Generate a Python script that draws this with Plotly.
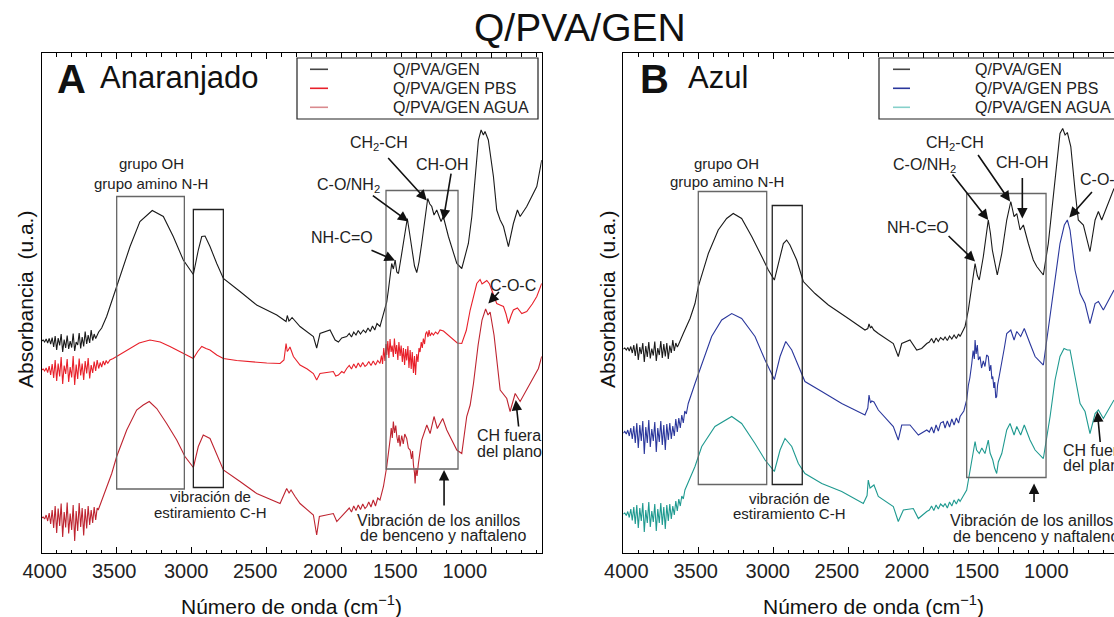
import plotly.graph_objects as go

# ---------------------------------------------------------------
# Espectros FTIR Q/PVA/GEN
# ---------------------------------------------------------------

# ---- Panel A (Anaranjado) : Q/PVA/GEN ----
a_gen_wn = [4000, 3990, 3980, 3970, 3960, 3950, 3940, 3930, 3920, 3910, 3900, 3890, 3880,
            3870, 3860, 3850, 3840, 3830, 3820, 3810, 3800, 3790, 3780, 3770, 3760, 3750,
            3740, 3730, 3720, 3710, 3700, 3690, 3680, 3670, 3660, 3650, 3640,
            3620, 3600, 3567, 3500, 3411, 3345, 3263, 3189, 3123, 3056, 2989, 2956, 2933,
            2911, 2878, 2833, 2789, 2678, 2567, 2433, 2385, 2371, 2363, 2352, 2345, 2331,
            2278, 2189, 2167, 2145, 2078, 2044, 2022, 2000, 1967, 1950, 1935, 1920, 1905,
            1890, 1875, 1856, 1840, 1825, 1810, 1795, 1780, 1765, 1745, 1730, 1711, 1700,
            1689, 1678, 1667, 1656, 1644, 1633, 1622, 1605, 1589, 1575, 1563, 1548, 1533,
            1515, 1500, 1485, 1467, 1445, 1427, 1413, 1400, 1385, 1367, 1338, 1323, 1289,
            1256, 1233, 1200, 1156, 1133, 1111, 1089, 1071, 1056, 1045, 1023, 989, 967,
            944, 922, 889, 856, 829, 811, 767, 700, 667]
a_gen_abs = [42.4, 42.6, 42.2, 42.8, 42.0, 42.9, 41.8, 43.1, 41.2, 43.4, 40.6, 43.0, 41.5,
             43.8, 40.2, 42.7, 41.0, 43.5, 40.8, 42.4, 41.1, 43.9, 40.4, 42.2, 41.6, 44.0,
             40.9, 43.2, 41.3, 44.3, 41.8, 43.6, 42.0, 44.6, 42.5, 43.8, 42.9,
             44.2, 45.0, 47.3, 53.3, 61.3, 66.3, 68.5, 67.3, 63.3, 58.6, 55.7, 60.6, 63.3,
             63.4, 61.3, 57.9, 54.9, 52.3, 49.6, 47.6, 46.6, 46.3, 47.5, 46.4, 46.6, 47.1,
             45.3, 43.3, 41.0, 43.9, 44.6, 42.6, 42.2, 43.0, 43.3, 43.9, 43.2, 44.2, 43.6,
             44.5, 43.8, 44.6, 44.1, 45.0, 44.3, 45.4, 44.6, 45.9, 45.3, 46.8, 48.6, 50.2,
             52.6, 55.6, 57.9, 56.8, 58.6, 56.2, 55.9, 59.0, 61.9, 64.8, 66.9, 64.0, 60.6,
             57.4, 56.1, 58.2, 61.9, 66.5, 70.9, 69.8, 69.3, 67.6, 68.6, 66.3, 67.3, 63.3,
             59.9, 57.9, 56.9, 61.9, 67.3, 75.3, 82.6, 84.6, 83.6, 84.3, 82.6, 75.3, 68.6,
             66.6, 65.3, 61.3, 65.9, 68.6, 67.3, 69.3, 73.3, 78.6]

# ---- Panel A : Q/PVA/GEN PBS ----
a_pbs_wn = [4000, 3990, 3980, 3970, 3960, 3950, 3940, 3930, 3920, 3910, 3900, 3890, 3880,
            3870, 3860, 3850, 3840, 3830, 3820, 3810, 3800, 3790, 3780, 3770, 3760, 3750,
            3740, 3730, 3720, 3710, 3700, 3690, 3680, 3670, 3660, 3650, 3640, 3630, 3620,
            3610, 3600, 3590, 3580, 3570, 3560,
            3545, 3523, 3470, 3411, 3350, 3278, 3210, 3145, 3070, 2989, 2960, 2933, 2905,
            2878, 2833, 2789, 2700, 2633, 2500, 2411, 2385, 2371, 2363, 2356, 2345, 2322,
            2278, 2230, 2189, 2167, 2145, 2100, 2056, 2040, 2022, 2000, 1985,
            1967, 1950, 1935, 1920, 1905, 1890, 1875, 1860, 1845, 1833, 1820, 1805, 1790,
            1775, 1760, 1745,
            1735, 1728, 1720, 1712, 1705, 1700, 1693, 1686, 1678, 1671, 1664, 1656, 1649,
            1641, 1634, 1626, 1619, 1611, 1604, 1596, 1589, 1581, 1574, 1567, 1559, 1552,
            1544, 1537, 1530, 1522, 1515, 1508, 1500, 1492, 1485, 1478, 1470, 1463, 1456,
            1448, 1441, 1433, 1425, 1418, 1411, 1400, 1389, 1375, 1360, 1345, 1322, 1300,
            1280, 1256, 1230, 1200, 1170, 1144, 1120, 1100, 1078, 1065, 1051, 1033, 1015,
            1000, 967, 945, 922, 905, 889, 870, 856, 829, 800, 767, 730, 700, 667]
a_pbs_abs = [36.6, 36.8, 36.4, 37.0, 36.1, 37.4, 35.6, 37.8, 35.0, 38.6, 34.4, 37.9, 35.3,
             39.2, 33.8, 37.5, 35.8, 38.8, 34.2, 37.2, 35.1, 39.4, 33.6, 37.7, 34.8, 38.9,
             35.5, 37.9, 34.6, 38.4, 35.9, 39.0, 34.9, 37.6, 36.0, 38.3, 36.4, 38.6, 36.9,
             38.1, 37.2, 38.4, 37.6, 38.5, 37.9,
             38.6, 38.9, 39.8, 40.9, 42.0, 42.6, 42.2, 41.3, 40.2, 38.9, 40.3, 41.3, 40.9,
             40.6, 39.6, 38.9, 38.5, 38.3, 38.0, 37.9, 38.6, 41.9, 40.3, 40.6, 41.2, 39.3,
             37.6, 36.8, 35.9, 34.6, 35.9, 36.1, 36.3, 35.4, 35.6, 36.3, 36.0,
             36.9, 37.5, 36.8, 37.8, 37.0, 38.0, 37.2, 38.1, 37.3, 37.6, 38.3, 37.5, 38.4,
             37.6, 38.5, 37.9,
             39.5, 37.8, 41.0, 38.4, 41.8, 39.6, 42.4, 39.0, 42.8, 40.2, 41.5, 39.2, 42.9,
             39.8, 41.6, 38.6, 42.2, 39.4, 41.5, 38.2, 41.0, 37.6, 40.8, 38.5, 41.4, 37.0,
             40.6, 36.8, 40.2, 36.0, 39.4, 35.6, 39.8, 38.2, 41.0, 40.2, 42.2, 41.0, 42.9,
             41.8, 43.8, 44.3, 43.2, 44.6, 43.4, 44.0, 43.6, 44.2, 43.8, 44.6, 44.4, 43.8,
             43.2, 42.6, 42.0, 41.9, 44.5, 48.6, 51.5, 53.9, 54.7, 53.8, 54.1, 54.5, 53.8,
             52.6, 49.9, 49.6, 49.3, 47.8, 45.9, 47.6, 48.6, 49.0, 47.9, 48.3, 49.8, 51.3, 53.9]

# ---- Panel A : Q/PVA/GEN AGUA ----
a_agua_wn = [4000, 3990, 3980, 3970, 3960, 3950, 3940, 3930, 3920, 3910, 3900, 3890, 3880,
             3870, 3860, 3850, 3840, 3830, 3820, 3810, 3800, 3790, 3780, 3770, 3760, 3750,
             3740, 3730, 3720, 3710, 3700, 3690, 3680, 3670, 3660, 3650, 3640, 3630, 3623,
             3567, 3533, 3500, 3433, 3367, 3323, 3283, 3233, 3167, 3100, 3045, 2989, 2956,
             2923, 2878, 2833, 2789, 2678, 2567, 2411, 2367, 2351, 2338, 2311, 2278, 2189,
             2167, 2149, 2056, 2033, 2000,
             1967, 1950, 1935, 1920, 1905, 1890, 1875, 1860, 1845, 1833, 1820, 1805, 1790,
             1775, 1760, 1745, 1722, 1700,
             1678, 1670, 1663, 1656, 1648, 1640, 1633, 1625, 1618, 1611, 1600, 1590, 1580,
             1567, 1556, 1544, 1535, 1528, 1522, 1515, 1511, 1505, 1498, 1489, 1467, 1433,
             1411, 1385, 1363, 1327, 1300, 1267, 1233, 1200, 1167, 1144, 1122, 1091, 1065,
             1041, 1025, 1011, 985, 944, 900, 878, 844, 811, 744, 689, 667]
a_agua_abs = [7.0, 7.2, 6.8, 7.6, 6.4, 8.0, 5.8, 8.6, 5.0, 9.4, 4.0, 8.9, 5.4,
              9.9, 3.2, 8.2, 5.1, 10.1, 3.9, 7.9, 4.6, 9.6, 2.4, 8.4, 4.4, 10.0,
              5.2, 9.0, 3.5, 8.8, 4.9, 9.4, 5.6, 8.6, 6.0, 9.2, 6.6, 9.0, 8.6,
              13.3, 15.9, 19.3, 24.6, 28.6, 29.6, 30.3, 28.9, 25.9, 22.6, 19.3, 17.1, 21.3,
              23.6, 22.9, 19.9, 16.6, 14.3, 11.9, 9.9, 12.9, 12.0, 12.6, 11.3, 9.9, 7.6,
              3.6, 7.3, 7.9, 6.3, 7.3,
              8.3, 9.0, 8.2, 9.4, 8.5, 9.6, 8.7, 9.8, 8.9, 9.3, 10.2, 9.2, 10.6,
              9.4, 11.0, 10.6, 13.3, 17.3,
              22.6, 25.0, 23.0, 26.3, 24.0, 25.5, 23.3, 22.0, 23.6, 21.3, 23.5, 21.8, 23.8,
              22.9, 21.0, 20.6, 18.8, 20.4, 17.6, 16.0, 13.9, 17.0, 15.4, 17.9, 22.6, 25.6,
              23.9, 27.3, 24.9, 26.9, 24.6, 22.6, 20.6, 19.9, 27.3, 29.6, 33.9, 41.6, 46.6,
              48.8, 47.6, 48.2, 43.6, 32.6, 30.9, 28.3, 31.9, 30.3, 33.9, 36.9, 39.3]

# ---- Panel B (Azul) : Q/PVA/GEN ----
b_gen_wn = [4000, 3990, 3980, 3970, 3960, 3950, 3940, 3930, 3920, 3910, 3900, 3890, 3880,
            3870, 3860, 3850, 3840, 3830, 3820, 3810, 3800, 3790, 3780, 3770, 3760, 3750,
            3740, 3730, 3720, 3710, 3700, 3690, 3680, 3670, 3660, 3650, 3640,
            3633, 3600, 3555, 3522, 3500, 3433, 3367, 3311, 3267, 3211, 3144, 3077, 3033,
            2993, 2955, 2933, 2911, 2889, 2844, 2800, 2722, 2633, 2500, 2389, 2370, 2362,
            2352, 2344, 2330, 2300, 2200, 2167, 2144, 2089, 2044, 2011, 1977,
            1960, 1945, 1930, 1915, 1900, 1885, 1867, 1855, 1840, 1825, 1810, 1795, 1780,
            1765, 1755, 1740, 1722, 1700, 1688, 1677, 1665, 1655, 1640, 1627, 1600, 1580,
            1567, 1553, 1540, 1507, 1477, 1444, 1417, 1395, 1377, 1355, 1333, 1300, 1267,
            1244, 1200, 1167, 1144, 1111, 1089, 1071, 1055, 1040, 1017, 989, 967, 933,
            889, 855, 833, 811, 767, 729]
b_gen_abs = [40.8, 41.0, 40.6, 41.1, 40.4, 41.3, 40.0, 41.6, 39.4, 41.9, 38.6, 41.2, 39.8,
             42.0, 38.2, 41.4, 39.2, 42.2, 38.9, 40.9, 39.5, 42.3, 38.4, 41.0, 39.6, 42.4,
             39.0, 41.8, 39.3, 42.0, 38.8, 41.5, 40.0, 42.6, 40.4, 42.0, 41.2,
             41.6, 43.9, 46.9, 49.9, 53.3, 59.9, 64.6, 66.9, 67.9, 66.9, 63.3, 59.3, 56.6,
             54.6, 59.3, 61.9, 62.6, 61.6, 58.6, 54.3, 51.9, 49.6, 46.9, 44.6, 44.9, 45.8,
             45.0, 45.3, 44.6, 43.9, 41.9, 39.3, 41.9, 42.6, 40.6, 40.9, 41.9,
             42.2, 42.9, 42.0, 43.0, 42.3, 43.1, 42.6, 43.2, 42.5, 43.4, 42.8, 43.6, 42.9,
             43.8, 43.3, 44.2, 45.3, 48.6, 51.0, 53.9, 56.2, 57.9, 55.5, 54.6, 59.3, 63.5,
             66.6, 64.0, 60.6, 55.6, 59.9, 66.6, 70.3, 67.3, 67.9, 64.6, 65.6, 61.9, 58.6,
             57.3, 55.6, 61.9, 68.6, 78.6, 83.9, 84.9, 83.6, 84.1, 81.3, 72.6, 66.6, 65.6,
             60.3, 66.6, 68.3, 66.6, 69.9, 72.9]

# ---- Panel B : Q/PVA/GEN PBS ----
b_pbs_wn = [4000, 3990, 3980, 3970, 3960, 3950, 3940, 3930, 3920, 3910, 3900, 3890, 3880,
            3870, 3860, 3850, 3840, 3830, 3820, 3810, 3800, 3790, 3780, 3770, 3760, 3750,
            3740, 3730, 3720, 3710, 3700, 3690, 3680, 3670, 3660, 3650, 3640, 3630, 3620,
            3610, 3600, 3590, 3580,
            3567, 3522, 3477, 3411, 3344, 3277, 3211, 3122, 3055, 2993, 2955, 2917, 2877,
            2833, 2789, 2677, 2544, 2389, 2370, 2362, 2352, 2344, 2329, 2300, 2200, 2167,
            2144, 2089, 2033, 1977,
            1960, 1945, 1930, 1915, 1900, 1885, 1867, 1855, 1840, 1825, 1810, 1795, 1780,
            1765, 1755, 1730, 1711,
            1700, 1690, 1677, 1668, 1660, 1655, 1648, 1640, 1633, 1622, 1612, 1600, 1589,
            1578, 1567, 1558, 1550, 1543, 1537, 1530, 1524, 1517, 1511, 1505, 1495, 1487,
            1477, 1460, 1444, 1417, 1395, 1377, 1351, 1327, 1289, 1255, 1200, 1155, 1122,
            1089, 1060, 1040, 1022, 989, 955, 922, 889, 855, 833, 800, 729]
b_pbs_abs = [24.0, 24.3, 23.8, 24.6, 23.4, 25.0, 22.8, 25.4, 22.0, 26.0, 21.0, 25.6, 22.4,
             26.4, 19.8, 25.2, 22.0, 26.6, 21.2, 24.8, 22.4, 26.2, 20.2, 25.0, 22.2, 26.4,
             21.6, 25.6, 20.6, 25.8, 22.6, 26.0, 22.8, 25.4, 23.4, 26.8, 24.2, 27.0, 25.0,
             27.6, 26.0, 28.4, 27.8,
             29.9, 33.9, 37.9, 43.3, 46.6, 47.9, 46.9, 43.3, 38.6, 34.7, 39.3, 42.3, 40.6,
             37.3, 34.3, 32.3, 29.9, 27.6, 29.0, 31.6, 30.0, 30.4, 30.2, 28.6, 25.3, 22.6,
             25.6, 25.6, 23.6, 24.6,
             24.2, 25.2, 24.0, 25.6, 24.4, 26.0, 26.3, 25.0, 26.4, 25.2, 26.8, 25.6, 27.0,
             26.0, 27.3, 28.4, 30.6,
             33.5, 35.0, 37.9, 40.5, 38.8, 42.6, 39.8, 41.6, 38.6, 39.3, 37.0, 38.4, 37.3,
             39.6, 39.3, 36.4, 37.6, 34.8, 35.3, 33.0, 34.2, 31.0, 31.3, 33.6, 35.2, 36.4,
             37.9, 41.0, 43.9, 44.6, 42.6, 44.3, 43.3, 44.9, 41.9, 39.3, 37.6, 47.3, 55.3,
             61.9, 65.6, 66.6, 64.6, 56.6, 51.9, 49.9, 45.9, 49.9, 50.3, 48.6, 52.6]

# ---- Panel B : Q/PVA/GEN AGUA ----
b_agua_wn = [4000, 3990, 3980, 3970, 3960, 3950, 3940, 3930, 3920, 3910, 3900, 3890, 3880,
             3870, 3860, 3850, 3840, 3830, 3820, 3810, 3800, 3790, 3780, 3770, 3760, 3750,
             3740, 3730, 3720, 3710, 3700, 3690, 3680, 3670, 3660, 3650, 3640, 3630, 3620,
             3610, 3600,
             3589, 3522, 3477, 3389, 3322, 3277, 3211, 3122, 3055, 2993, 2955, 2922, 2877,
             2833, 2789, 2677, 2544, 2400, 2375, 2367, 2355, 2344, 2329, 2300, 2200, 2167,
             2133, 2067, 2033, 1977,
             1960, 1945, 1930, 1915, 1900, 1885, 1867, 1855, 1840, 1825, 1810, 1795, 1780,
             1765, 1755, 1711, 1677, 1665, 1655, 1645, 1627, 1610, 1589, 1567, 1555, 1537,
             1525, 1511, 1500, 1477, 1444, 1422, 1395, 1377, 1351, 1327, 1289, 1255, 1200,
             1155, 1122, 1089, 1062, 1040, 1022, 989, 955, 922, 889, 855, 833, 800, 729]
b_agua_abs = [7.8, 8.0, 7.5, 8.3, 7.1, 8.8, 6.5, 9.2, 5.8, 9.6, 5.0, 9.0, 6.4,
              10.0, 4.2, 8.6, 6.0, 10.2, 5.2, 8.4, 6.2, 9.8, 4.4, 8.8, 6.0, 10.0,
              5.6, 9.2, 4.8, 9.6, 6.4, 9.8, 6.8, 9.4, 7.6, 10.4, 8.4, 10.8, 9.4,
              11.4, 10.8,
              12.6, 17.3, 21.3, 25.3, 26.6, 27.3, 25.9, 21.9, 18.6, 16.3, 20.6, 22.9, 21.3,
              17.9, 15.9, 13.9, 12.3, 9.9, 11.5, 14.6, 13.0, 13.2, 13.6, 11.3, 9.3, 6.3,
              8.6, 8.9, 6.9, 8.3,
              8.6, 9.4, 8.5, 9.6, 8.8, 9.8, 9.3, 9.9, 9.0, 10.2, 9.4, 10.6, 9.8,
              10.8, 10.3, 12.6, 18.6, 20.5, 22.3, 20.6, 19.9, 21.0, 19.9, 22.6, 20.0, 18.6,
              17.0, 15.9, 18.2, 19.9, 24.6, 25.9, 23.6, 25.3, 23.6, 25.6, 22.6, 20.6, 18.9,
              27.3, 34.6, 39.3, 40.9, 40.6, 40.6, 35.3, 29.9, 28.3, 23.9, 27.9, 28.6, 26.9, 30.6]

series_names = ["Q/PVA/GEN", "Q/PVA/GEN PBS", "Q/PVA/GEN AGUA"]
colores_a = ["#1a1a1a", "#e8202a", "#be2430"]
colores_b = ["#1a1a1a", "#2a379c", "#1f9a90"]
leyenda_a = ["#444444", "#e8202a", "#d98a8e"]
leyenda_b = ["#444444", "#2a379c", "#86d0ca"]

# rotulos del eje x tal como aparecen en la figura (algo corridos respecto a las marcas)
tick_text = ["4000", "3500", "3000", "2500", "2000", "1500", "1000"]
tick_pos = [3980, 3517, 3037, 2577, 2110, 1643, 1180]

# ---------------------------------------------------------------
W, H = 1114, 617
dom_y = [0.1037, 0.9141]
dom_xa = [0.0374, 0.4863]
dom_xb = [0.5595, 1.0]
rango_a = [4000, 667]
rango_b = [4000, 729]

fig = go.Figure()

panel_a = [(a_gen_wn, a_gen_abs), (a_pbs_wn, a_pbs_abs), (a_agua_wn, a_agua_abs)]
panel_b = [(b_gen_wn, b_gen_abs), (b_pbs_wn, b_pbs_abs), (b_agua_wn, b_agua_abs)]

for (wn, ab), c, n in zip(panel_a, colores_a, series_names):
    fig.add_trace(go.Scatter(x=wn, y=ab, mode="lines", name=n, xaxis="x", yaxis="y",
                             line=dict(color=c, width=1.1), showlegend=False, hoverinfo="skip"))
for (wn, ab), c, n in zip(panel_b, colores_b, series_names):
    fig.add_trace(go.Scatter(x=wn, y=ab, mode="lines", name=n, xaxis="x2", yaxis="y2",
                             line=dict(color=c, width=1.1), showlegend=False, hoverinfo="skip"))

# eje con los rotulos
ejex = dict(tickmode="array", tickvals=tick_pos, ticktext=tick_text, ticks="",
            showline=True, linecolor="black", linewidth=1.2, mirror=True, showgrid=False,
            zeroline=False, tickfont=dict(size=20, color="#222"), automargin=False)
# eje superpuesto solo con las marcas (mayores cada 500, menores cada 100)
marcas = dict(dtick=500, tick0=0, ticks="inside", ticklen=6, tickwidth=1, tickcolor="black",
              minor=dict(dtick=100, ticks="inside", ticklen=3.5, tickwidth=1, tickcolor="black"),
              showticklabels=False, showline=False, mirror="ticks", showgrid=False,
              zeroline=False, automargin=False, side="bottom")
ejey = dict(range=[0, 100], domain=dom_y, showticklabels=False, ticks="", showgrid=False,
            zeroline=False, showline=True, linecolor="black", linewidth=1.2, automargin=False)

fig.update_layout(
    width=W, height=H, margin=dict(l=0, r=0, t=0, b=0, pad=0, autoexpand=False),
    paper_bgcolor="white", plot_bgcolor="white", showlegend=False,
    font=dict(family="Liberation Sans, Arial, sans-serif", color="#222"),
    xaxis=dict(ejex, domain=dom_xa, range=rango_a, anchor="y"),
    yaxis=dict(ejey, anchor="x", mirror=True),
    xaxis2=dict(ejex, domain=dom_xb, range=rango_b, anchor="y2"),
    yaxis2=dict(ejey, anchor="x2", mirror=False),
    xaxis3=dict(marcas, domain=dom_xa, range=rango_a, anchor="y", overlaying="x"),
    xaxis4=dict(marcas, domain=dom_xb, range=rango_b, anchor="y2", overlaying="x2"),
)
# trazas vacias para que se dibujen los ejes de marcas
fig.add_trace(go.Scatter(x=[], y=[], xaxis="x3", yaxis="y", showlegend=False))
fig.add_trace(go.Scatter(x=[], y=[], xaxis="x4", yaxis="y2", showlegend=False))

# ---- recuadros de bandas ----
cajas = [("x", "y", 3500, 3049, 12.8, 71.3, "#666"),
         ("x", "y", 2989, 2789, 13.1, 68.7, "#222"),
         ("x", "y", 1705, 1225, 16.8, 72.5, "#666"),
         ("x2", "y2", 3500, 3044, 13.7, 72.3, "#666"),
         ("x2", "y2", 3007, 2807, 13.7, 69.5, "#222"),
         ("x2", "y2", 1711, 1182, 15.1, 71.9, "#666")]
for xr, yr, x0, x1, y0, y1, c in cajas:
    fig.add_shape(type="rect", xref=xr, yref=yr, x0=x0, x1=x1, y0=y0, y1=y1,
                  line=dict(color=c, width=1.3))

# ---- textos de asignacion ----
def texto(t, x, y, xr, yr, size=16, xanchor="center"):
    fig.add_annotation(text=t, x=x, y=y, xref=xr, yref=yr, showarrow=False,
                       xanchor=xanchor, yanchor="middle", font=dict(size=size, color="#222"))

sub2 = "<sub>2</sub>"
textos_a = [("grupo OH", 3271, 78.0, 15), ("grupo amino N-H", 3271, 74.0, 15),
            ("CH" + sub2 + "-CH", 1751, 81.9, 16), ("C-O/NH" + sub2, 1956, 73.6, 16),
            ("CH-OH", 1329, 77.7, 16), ("NH-C=O", 2000, 63.1, 16), ("C-O-C", 856, 53.6, 16),
            ("CH fuera", 883, 23.5, 16), ("del plano", 883, 20.4, 16),
            ("Vibración de los anillos", 1356, 6.6, 16),
            ("de benceno y naftaleno", 1323, 3.6, 16),
            ("vibración de", 2878, 11.3, 15), ("estiramiento C-H", 2878, 8.1, 15)]
for t, x, y, s in textos_a:
    texto(t, x, y, "x", "y", size=s)

textos_b = [("grupo OH", 3309, 78.0, "center", 15), ("grupo amino N-H", 3309, 74.4, "center", 15),
            ("CH" + sub2 + "-CH", 1789, 81.9, "center", 16),
            ("C-O/NH" + sub2, 1989, 77.6, "center", 16),
            ("CH-OH", 1340, 78.1, "center", 16), ("NH-C=O", 2033, 65.1, "center", 16),
            ("C-O-C", 969, 74.7, "left", 16), ("CH fuera", 1082, 20.6, "left", 16),
            ("del plano", 1082, 17.6, "left", 16),
            ("Vibración de los anillos", 1833, 6.6, "left", 16),
            ("de benceno y naftaleno", 1815, 3.3, "left", 16),
            ("vibración de", 2889, 10.9, "center", 15),
            ("estiramiento C-H", 2889, 7.9, "center", 15)]
for t, x, y, xa, s in textos_b:
    texto(t, x, y, "x2", "y2", size=s, xanchor=xa)

# ---- flechas (punta en el pico, cola desplazada en px) ----
flechas = [("x", "y", 1433, 70.5, -40, -44), ("x", "y", 1323, 66.6, 8, -48),
           ("x", "y", 1556, 66.3, -37, -27), ("x", "y", 1645, 58.5, -25, -11),
           ("x", "y", 1023, 49.9, 12, -13), ("x", "y", 840, 30.6, 3, 28),
           ("x", "y", 1318, 16.6, 0, 37),
           ("x2", "y2", 1422, 70.3, -33, -48), ("x2", "y2", 1340, 66.9, 0, -42),
           ("x2", "y2", 1567, 66.6, -37, -47), ("x2", "y2", 1655, 58.3, -28, -27),
           ("x2", "y2", 1027, 67.1, 24, -27), ("x2", "y2", 840, 28.3, 3, 32),
           ("x2", "y2", 1262, 13.9, 0, 20)]
for xr, yr, x, y, ax, ay in flechas:
    fig.add_annotation(x=x, y=y, xref=xr, yref=yr, ax=ax, ay=ay, text="", showarrow=True,
                       arrowhead=2, arrowsize=1.3, arrowwidth=1.6, arrowcolor="#111", standoff=0)

# ---- leyendas dibujadas ----
def leyenda(x0, x1, lx0, lx1, tx, colores):
    fig.add_shape(type="rect", xref="paper", yref="paper", x0=x0 / W, x1=x1 / W,
                  y0=1 - 119 / H, y1=1 - 58 / H, line=dict(color="#222", width=1.2),
                  fillcolor="white")
    for i, (n, c) in enumerate(zip(series_names, colores)):
        yy = 1 - (69.3 + 19 * i) / H
        fig.add_shape(type="line", xref="paper", yref="paper", x0=lx0 / W, x1=lx1 / W,
                      y0=yy, y1=yy, line=dict(color=c, width=1.6))
        fig.add_annotation(text=n, x=tx / W, y=yy, xref="paper", yref="paper",
                           showarrow=False, xanchor="left", yanchor="middle",
                           font=dict(size=16, color="#222"))

leyenda(297, 538, 310, 328, 391, leyenda_a)
leyenda(879, 1125, 893, 910, 973, leyenda_b)

# ---- titulos ----
def rotulo(t, px, py, size, xanchor="center", angle=0):
    fig.add_annotation(text=t, x=px / W, y=1 - py / H, xref="paper", yref="paper",
                       showarrow=False, xanchor=xanchor, yanchor="middle", textangle=angle,
                       font=dict(size=size, color="#111"))

rotulo("Q/PVA/GEN", 580, 28, 39)
for letra, nombre, xl, xn in [("A", "Anaranjado", 55, 98), ("B", "Azul", 638, 686)]:
    rotulo("<b>" + letra + "</b>", xl, 79, 40, xanchor="left")
    rotulo(nombre, xn, 78, 31, xanchor="left")
for xc in [291.7, 873.3]:
    rotulo("Número de onda (cm<sup>−1</sup>)", xc, 605, 21)
for xc in [25, 607]:
    rotulo("Absorbancia  (u.a.)", xc, 300, 21, angle=-90)

fig.write_html("out.html", config={"displayModeBar": False},
               post_script="document.body.style.margin='0px';")
